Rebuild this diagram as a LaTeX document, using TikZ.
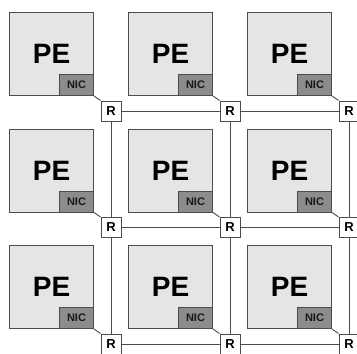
\documentclass[tikz,border=0pt]{standalone}
\usepackage{fontspec}
\setmainfont{Liberation Sans}
\begin{document}
\begin{tikzpicture}[x = 1pt, y = -1pt,
        pe/.style     = {draw = black!70, line width = 1pt, fill = black!10, anchor = north west,
                         minimum width = 84pt, minimum height = 83pt, inner sep = 0pt,
                         font = \fontsize{28}{28}\selectfont\bfseries},
        nic/.style    = {draw = black!70, line width = 1pt, fill = black!45, anchor = south east,
                         minimum width = 34pt, minimum height = 21pt, inner sep = 0pt, text = black!90,
                         font = \fontsize{11}{11}\selectfont\bfseries},
        router/.style = {draw = black!70, line width = 1pt, fill = white,
                         minimum size = 20pt, inner sep = 0pt,
                         font = \fontsize{13}{13}\selectfont\bfseries},
        link/.style   = {draw = black!70, line width = 0.9pt}]
    \useasboundingbox (0,0) rectangle (357,354);

    % row 1
    \node[pe] (pe11) at (  9,12) {PE};
    \node[pe] (pe12) at (128,12) {PE};
    \node[pe] (pe13) at (247,12) {PE};
    \node[nic] (nic11) at (pe11.south east) {NIC};
    \node[nic] (nic12) at (pe12.south east) {NIC};
    \node[nic] (nic13) at (pe13.south east) {NIC};
    \node[router] (r11) at (111,111) {R};
    \node[router] (r12) at (230,111) {R};
    \node[router] (r13) at (349,111) {R};

    % row 2
    \node[pe] (pe21) at (  9,128.5) {PE};
    \node[pe] (pe22) at (128,128.5) {PE};
    \node[pe] (pe23) at (247,128.5) {PE};
    \node[nic] (nic21) at (pe21.south east) {NIC};
    \node[nic] (nic22) at (pe22.south east) {NIC};
    \node[nic] (nic23) at (pe23.south east) {NIC};
    \node[router] (r21) at (111,227.5) {R};
    \node[router] (r22) at (230,227.5) {R};
    \node[router] (r23) at (349,227.5) {R};

    % row 3
    \node[pe] (pe31) at (  9,245) {PE};
    \node[pe] (pe32) at (128,245) {PE};
    \node[pe] (pe33) at (247,245) {PE};
    \node[nic] (nic31) at (pe31.south east) {NIC};
    \node[nic] (nic32) at (pe32.south east) {NIC};
    \node[nic] (nic33) at (pe33.south east) {NIC};
    \node[router] (r31) at (111,344) {R};
    \node[router] (r32) at (230,344) {R};
    \node[router] (r33) at (349,344) {R};

    % NIC to router
    \draw[link] (nic11.south east) -- (r11.north west);
    \draw[link] (nic12.south east) -- (r12.north west);
    \draw[link] (nic13.south east) -- (r13.north west);
    \draw[link] (nic21.south east) -- (r21.north west);
    \draw[link] (nic22.south east) -- (r22.north west);
    \draw[link] (nic23.south east) -- (r23.north west);
    \draw[link] (nic31.south east) -- (r31.north west);
    \draw[link] (nic32.south east) -- (r32.north west);
    \draw[link] (nic33.south east) -- (r33.north west);

    % mesh links
    \draw[link] (r11) -- (r12);
    \draw[link] (r12) -- (r13);
    \draw[link] (r21) -- (r22);
    \draw[link] (r22) -- (r23);
    \draw[link] (r31) -- (r32);
    \draw[link] (r32) -- (r33);
    \draw[link] (r11) -- (r21);
    \draw[link] (r21) -- (r31);
    \draw[link] (r12) -- (r22);
    \draw[link] (r22) -- (r32);
    \draw[link] (r13) -- (r23);
    \draw[link] (r23) -- (r33);
\end{tikzpicture}
\end{document}
